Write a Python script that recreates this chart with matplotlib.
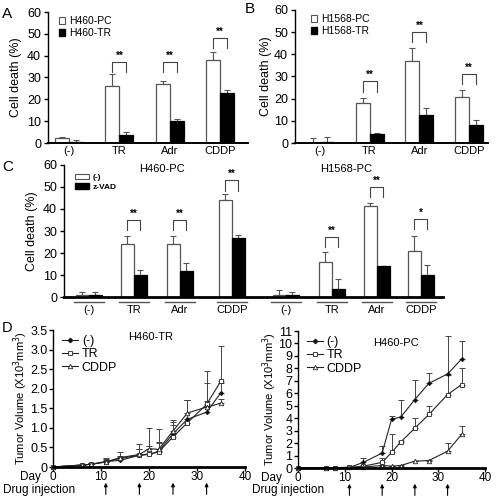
import matplotlib
matplotlib.use("Agg")
import matplotlib.pyplot as plt
import numpy as np
from matplotlib.patches import Patch
from matplotlib.lines import Line2D

plt.rcParams['font.family'] = ['Liberation Sans', 'DejaVu Sans']

W, H = 496, 498
fig = plt.figure(figsize=(W / 100, H / 100), dpi=100)

# ---------------- data ----------------
groups = ["(-)", "TR", "Adr", "CDDP"]

# Panel A
A_pc = [2.1, 26.3, 26.9, 37.9]
A_pc_err = [0.6, 5.2, 1.3, 3.9]
A_tr = [0.6, 3.5, 10.2, 22.9]
A_tr_err = [0.6, 1.7, 0.9, 1.2]
A_sig = ["", "**", "**", "**"]
A_brk = [0, 37.1, 37.1, 48.1]

# Panel B
B_pc = [0.1, 18.0, 37.0, 20.6]
B_pc_err = [2.0, 2.3, 6.0, 3.3]
B_tr = [0.6, 4.0, 12.8, 8.1]
B_tr_err = [2.3, 0.6, 2.9, 2.4]
B_sig = ["", "**", "**", "**"]
B_brk = [0, 27.9, 50.2, 31.1]

# Panel C
C_h460_ctl = [1.0, 24.3, 24.3, 43.9]
C_h460_ctl_err = [1.3, 3.2, 3.6, 2.8]
C_h460_zvad = [1.0, 9.8, 12.0, 27.0]
C_h460_zvad_err = [1.3, 2.4, 3.5, 1.4]
C_h460_sig = ["", "**", "**", "**"]
C_h460_brk = [0, 35.0, 35.0, 53.0]

C_h1568_ctl = [0.8, 16.0, 41.3, 20.9]
C_h1568_ctl_err = [2.2, 4.5, 1.3, 6.8]
C_h1568_zvad = [0.8, 3.5, 14.0, 10.0]
C_h1568_zvad_err = [1.4, 4.6, 0.3, 4.4]
C_h1568_sig = ["", "**", "**", "*"]
C_h1568_brk = [0, 27.4, 50.0, 35.5]

# Panel D
days = [0, 6, 8, 11, 14, 18, 20, 22, 25, 28, 32, 35]
D_tr_ctl = [0, 0.05, 0.07, 0.14, 0.17, 0.30, 0.32, 0.40, 0.85, 1.22, 1.40, 1.90]
D_tr_ctl_err = [0, 0.01, 0.02, 0.08, 0.08, 0.15, 0.05, 0.22, 0.30, 0.50, 0.75, 0.25]
D_tr_tr = [0, 0.05, 0.07, 0.13, 0.22, 0.30, 0.33, 0.38, 0.77, 1.13, 1.60, 2.20]
D_tr_tr_err = [0, 0.01, 0.02, 0.06, 0.05, 0.28, 0.20, 0.58, 0.30, 0.58, 0.85, 0.88]
D_tr_cddp = [0, 0.05, 0.07, 0.13, 0.24, 0.32, 0.47, 0.45, 0.92, 1.38, 1.53, 1.63]
D_tr_cddp_err = [0, 0.01, 0.02, 0.08, 0.15, 0.15, 0.53, 0.18, 0.27, 0.32, 0.15, 0.10]

D_pc_ctl = [0, 0.02, 0.03, 0.05, 0.45, 1.20, 3.90, 4.10, 5.50, 6.80, 7.55, 8.75]
D_pc_ctl_err = [0, 0.02, 0.03, 0.05, 0.35, 0.60, 0.30, 1.35, 1.60, 0.85, 3.05, 1.45]
D_pc_tr = [0, 0.02, 0.03, 0.05, 0.15, 0.45, 1.25, 2.10, 3.20, 4.30, 5.90, 6.70]
D_pc_tr_err = [0, 0.02, 0.03, 0.05, 0.10, 0.35, 1.45, 0.10, 0.80, 0.70, 1.60, 1.30]
D_pc_cddp = [0, 0.02, 0.02, 0.05, 0.08, 0.20, 0.15, 0.20, 0.55, 0.60, 1.35, 2.70]
D_pc_cddp_err = [0, 0.01, 0.01, 0.02, 0.03, 0.05, 0.05, 0.05, 0.05, 0.05, 0.65, 0.65]
inject_days = [11, 18, 25, 32]


# ---------------- helpers ----------------
def px_axes(l, t, r, b):
    return fig.add_axes([l / W, 1 - b / H, (r - l) / W, (b - t) / H])


def style_bar_axes(ax, ylab_x):
    for s in ["top", "right"]:
        ax.spines[s].set_visible(False)
    ax.spines["left"].set_linewidth(1.0)
    ax.spines["bottom"].set_linewidth(1.4)
    ax.tick_params(axis="y", direction="out", length=3, width=1, labelsize=9, pad=2)
    ax.tick_params(axis="x", length=0, labelsize=8, pad=2)
    ax.set_ylim(0, 60)
    ax.set_yticks(range(0, 61, 10))
    ax.set_ylabel("Cell death (%)", fontsize=9)
    ax.yaxis.set_label_coords(ylab_x, 0.5)


def bars(ax, pos, v1, e1, v2, e2, sig, brk, bw=0.28):
    pos = np.asarray(pos, float)
    ax.bar(pos - bw / 2, v1, bw, color="white", edgecolor="#555555", linewidth=0.9, zorder=2)
    ax.bar(pos + bw / 2, v2, bw, color="black", edgecolor="black", linewidth=0.9, zorder=2)
    ax.errorbar(pos - bw / 2, v1, yerr=[np.zeros(len(v1)), e1], fmt="none",
                ecolor="#555555", elinewidth=0.8, capsize=2, capthick=0.8, zorder=1)
    ax.errorbar(pos + bw / 2, v2, yerr=[np.zeros(len(v2)), e2], fmt="none",
                ecolor="#555555", elinewidth=0.8, capsize=2, capthick=0.8, zorder=1)
    for p, s, h in zip(pos, sig, brk):
        if not s:
            continue
        x1, x2 = p - bw / 2, p + bw / 2
        ax.plot([x1, x1, x2, x2], [h - 4.7, h, h, h - 4.7], color="#444444", lw=0.8,
                clip_on=False)
        ax.text(p, h + 0.6, s, ha="center", va="bottom", fontsize=7, fontweight="bold")


# ---------------- Panel A ----------------
axA = px_axes(48, 12, 248, 143)
style_bar_axes(axA, -0.13)
posA = np.arange(4)
bars(axA, posA, A_pc, A_pc_err, A_tr, A_tr_err, A_sig, A_brk)
axA.set_xlim(-0.42, 3.56)
axA.set_xticks(posA)
axA.set_xticklabels(groups)
axA.legend(handles=[Patch(facecolor="white", edgecolor="#555555", lw=0.8, label="H460-PC"),
                    Patch(facecolor="black", edgecolor="black", label="H460-TR")],
           loc="upper left", bbox_to_anchor=(0.035, 1.0), frameon=False, fontsize=7.5,
           handlelength=0.6, handleheight=0.6, handletextpad=0.4, labelspacing=0.2,
           borderaxespad=0)
fig.text(2 / W, 1 - 14 / H, "A", fontsize=11, va="center", ha="left")

# ---------------- Panel B ----------------
axB = px_axes(295, 10, 488, 143)
style_bar_axes(axB, -0.12)
posB = np.arange(4)
bars(axB, posB, B_pc, B_pc_err, B_tr, B_tr_err, B_sig, B_brk)
axB.set_xlim(-0.5, 3.38)
axB.set_xticks(posB)
axB.set_xticklabels(groups)
axB.legend(handles=[Patch(facecolor="white", edgecolor="#555555", lw=0.8, label="H1568-PC"),
                    Patch(facecolor="black", edgecolor="black", label="H1568-TR")],
           loc="upper left", bbox_to_anchor=(0.06, 1.0), frameon=False, fontsize=7.5,
           handlelength=0.6, handleheight=0.6, handletextpad=0.4, labelspacing=0.2,
           borderaxespad=0)
fig.text(245 / W, 1 - 9 / H, "B", fontsize=11, va="center", ha="left")

# ---------------- Panel C ----------------
axC = px_axes(64, 165, 443, 297)
style_bar_axes(axC, -0.069)
axC.spines["bottom"].set_linewidth(2.0)
posC1 = np.array([0.0, 0.98, 1.98, 3.11])
posC2 = np.array([4.28, 5.28, 6.26, 7.22])
bars(axC, posC1, C_h460_ctl, C_h460_ctl_err, C_h460_zvad, C_h460_zvad_err,
     C_h460_sig, C_h460_brk)
bars(axC, posC2, C_h1568_ctl, C_h1568_ctl_err, C_h1568_zvad, C_h1568_zvad_err,
     C_h1568_sig, C_h1568_brk)
axC.set_xlim(-0.54, 7.7)
axC.set_xticks(np.concatenate([posC1, posC2]))
axC.set_xticklabels(groups + groups)
axC.tick_params(axis="x", pad=6)
for p in np.concatenate([posC1, posC2]):
    axC.plot([p - 0.33, p + 0.33], [-0.035, -0.035], transform=axC.get_xaxis_transform(),
             color="#555555", lw=1.0, clip_on=False)
axC.text(1.6, 58, "H460-PC", fontsize=8, ha="center", va="center")
axC.text(5.6, 58, "H1568-PC", fontsize=8, ha="center", va="center")
axC.legend(handles=[Patch(facecolor="white", edgecolor="#555555", lw=0.8, label="(-)"),
                    Patch(facecolor="black", edgecolor="black", label="z-VAD")],
           loc="upper left", bbox_to_anchor=(0.02, 0.96), frameon=False,
           prop={"size": 6, "weight": "bold"},
           handlelength=1.7, handleheight=0.7, handletextpad=0.4, labelspacing=0.2,
           borderaxespad=0)
fig.text(2 / W, 1 - 167 / H, "C", fontsize=11, va="center", ha="left")


# ---------------- Panel D ----------------
def growth(ax, ctl, ctl_e, tr, tr_e, cd, cd_e, ymax, yticks, yticklabels, title, tx, ty,
           ylab_x, day_x):
    d = np.asarray(days)
    for v, e, mk, mfc, ms in [(ctl, ctl_e, "D", "black", 2.2),
                              (tr, tr_e, "s", "white", 3.2),
                              (cd, cd_e, "^", "white", 3.2)]:
        ax.errorbar(d, v, yerr=[np.zeros(len(v)), e], fmt="none", ecolor="#444444",
                    elinewidth=0.7, capsize=2, capthick=0.7, zorder=1)
        ax.plot(d, v, color="#222222", lw=0.8, marker=mk, mfc=mfc, mec="#222222",
                ms=ms, mew=0.6, zorder=2, clip_on=False)
    for s in ["top", "right"]:
        ax.spines[s].set_visible(False)
    ax.spines["left"].set_linewidth(1.0)
    ax.spines["bottom"].set_linewidth(2.0)
    ax.set_xlim(0, 40)
    ax.set_ylim(0, ymax)
    ax.set_xticks([0, 10, 20, 30, 40])
    ax.set_yticks(yticks)
    ax.set_yticklabels(yticklabels)
    ax.tick_params(axis="y", direction="out", length=3, width=1, labelsize=9, pad=1)
    ax.tick_params(axis="x", direction="out", length=3, width=1, labelsize=8.5, pad=0)
    ax.set_ylabel("Tumor Volume (X10$^3$mm$^3$)", fontsize=8)
    ax.yaxis.set_label_coords(ylab_x, 0.5)
    ax.text(tx, ty, title, fontsize=8, ha="left", va="center", transform=ax.transAxes)
    ax.legend(handles=[Line2D([], [], color="#222222", lw=0.8, marker="D", mfc="black", ms=2.2, label="(-)"),
                       Line2D([], [], color="#222222", lw=0.8, marker="s", mfc="white", ms=3.2, mew=0.6, label="TR"),
                       Line2D([], [], color="#222222", lw=0.8, marker="^", mfc="white", ms=3.2, mew=0.6, label="CDDP")],
              loc="upper left", bbox_to_anchor=(0.02, 1.0), frameon=False, fontsize=9,
              handlelength=1.3, handletextpad=0.3, labelspacing=0.1, borderaxespad=0)
    ax.text(day_x, -0.07, "Day", fontsize=8.5, ha="right", va="center", transform=ax.transAxes)
    for dd in inject_days:
        ax.annotate("", xy=(dd, -0.115), xytext=(dd, -0.2),
                    xycoords=("data", "axes fraction"), textcoords=("data", "axes fraction"),
                    arrowprops=dict(arrowstyle="-|>", color="black", lw=0.8,
                                    mutation_scale=5, shrinkA=0, shrinkB=0))


axD1 = px_axes(53, 330, 245, 467)
growth(axD1, D_tr_ctl, D_tr_ctl_err, D_tr_tr, D_tr_tr_err, D_tr_cddp, D_tr_cddp_err,
       3.5, np.arange(0, 3.51, 0.5), ["0", "0.5", "1.0", "1.5", "2.0", "2.5", "3.0", "3.5"],
       "H460-TR", 0.39, 0.95, -0.12, -0.065)
axD2 = px_axes(298, 331, 485, 468)
growth(axD2, D_pc_ctl, D_pc_ctl_err, D_pc_tr, D_pc_tr_err, D_pc_cddp, D_pc_cddp_err,
       11, np.arange(0, 12), [str(i) for i in range(12)],
       "H460-PC", 0.4, 0.91, -0.1, -0.085)
fig.text(3 / W, 1 - 490 / H, "Drug injection", fontsize=8.5, ha="left", va="center")
fig.text(252 / W, 1 - 490 / H, "Drug injection", fontsize=8.5, ha="left", va="center")
fig.text(2 / W, 1 - 328 / H, "D", fontsize=10.5, va="center", ha="left")

fig.savefig("out.png", dpi=100)
